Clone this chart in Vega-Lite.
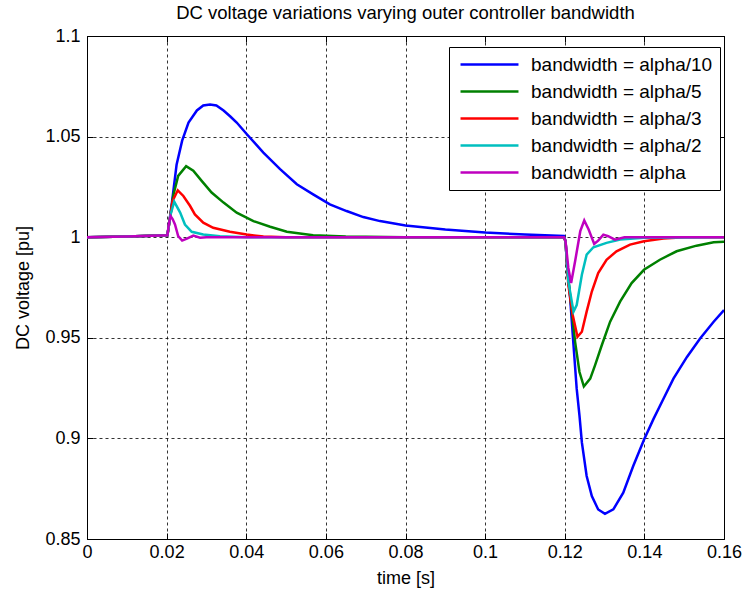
{
  "$schema": "https://vega.github.io/schema/vega-lite/v6.json",
  "width": 637,
  "height": 503,
  "autosize": {"type": "none"},
  "padding": {"left": 87, "top": 36, "right": 22, "bottom": 56},
  "background": "white",
  "title": {"text": "DC voltage variations varying outer controller bandwidth", "font": "Liberation Sans", "fontSize": 18.5, "fontWeight": "normal", "color": "black", "offset": 5},
  "data": {"values": [
    {"s": "bandwidth = alpha/10", "t": 0, "v": 1.0},
    {"s": "bandwidth = alpha/10", "t": 0.01, "v": 1.0004},
    {"s": "bandwidth = alpha/10", "t": 0.0202, "v": 1.001},
    {"s": "bandwidth = alpha/10", "t": 0.0212, "v": 1.015},
    {"s": "bandwidth = alpha/10", "t": 0.0225, "v": 1.036},
    {"s": "bandwidth = alpha/10", "t": 0.0239, "v": 1.048},
    {"s": "bandwidth = alpha/10", "t": 0.0255, "v": 1.057},
    {"s": "bandwidth = alpha/10", "t": 0.0276, "v": 1.063},
    {"s": "bandwidth = alpha/10", "t": 0.0292, "v": 1.0655},
    {"s": "bandwidth = alpha/10", "t": 0.0309, "v": 1.066},
    {"s": "bandwidth = alpha/10", "t": 0.0325, "v": 1.0655},
    {"s": "bandwidth = alpha/10", "t": 0.0343, "v": 1.063},
    {"s": "bandwidth = alpha/10", "t": 0.036, "v": 1.06},
    {"s": "bandwidth = alpha/10", "t": 0.0376, "v": 1.057},
    {"s": "bandwidth = alpha/10", "t": 0.0401, "v": 1.0513},
    {"s": "bandwidth = alpha/10", "t": 0.0443, "v": 1.042},
    {"s": "bandwidth = alpha/10", "t": 0.0485, "v": 1.0338},
    {"s": "bandwidth = alpha/10", "t": 0.0527, "v": 1.0263},
    {"s": "bandwidth = alpha/10", "t": 0.0568, "v": 1.0213},
    {"s": "bandwidth = alpha/10", "t": 0.061, "v": 1.0163},
    {"s": "bandwidth = alpha/10", "t": 0.0652, "v": 1.013},
    {"s": "bandwidth = alpha/10", "t": 0.0694, "v": 1.01},
    {"s": "bandwidth = alpha/10", "t": 0.0736, "v": 1.008},
    {"s": "bandwidth = alpha/10", "t": 0.08, "v": 1.0058},
    {"s": "bandwidth = alpha/10", "t": 0.09, "v": 1.0038},
    {"s": "bandwidth = alpha/10", "t": 0.1, "v": 1.0023},
    {"s": "bandwidth = alpha/10", "t": 0.11, "v": 1.0013},
    {"s": "bandwidth = alpha/10", "t": 0.1198, "v": 1.0006},
    {"s": "bandwidth = alpha/10", "t": 0.1202, "v": 0.998},
    {"s": "bandwidth = alpha/10", "t": 0.1206, "v": 0.985},
    {"s": "bandwidth = alpha/10", "t": 0.1213, "v": 0.9713},
    {"s": "bandwidth = alpha/10", "t": 0.1222, "v": 0.9463},
    {"s": "bandwidth = alpha/10", "t": 0.123, "v": 0.9247},
    {"s": "bandwidth = alpha/10", "t": 0.1237, "v": 0.9113},
    {"s": "bandwidth = alpha/10", "t": 0.1243, "v": 0.898},
    {"s": "bandwidth = alpha/10", "t": 0.1255, "v": 0.8813},
    {"s": "bandwidth = alpha/10", "t": 0.1268, "v": 0.8713},
    {"s": "bandwidth = alpha/10", "t": 0.1284, "v": 0.8647},
    {"s": "bandwidth = alpha/10", "t": 0.1301, "v": 0.8625},
    {"s": "bandwidth = alpha/10", "t": 0.1322, "v": 0.8647},
    {"s": "bandwidth = alpha/10", "t": 0.1347, "v": 0.873},
    {"s": "bandwidth = alpha/10", "t": 0.1372, "v": 0.8863},
    {"s": "bandwidth = alpha/10", "t": 0.1399, "v": 0.8993},
    {"s": "bandwidth = alpha/10", "t": 0.1423, "v": 0.9097},
    {"s": "bandwidth = alpha/10", "t": 0.1448, "v": 0.9197},
    {"s": "bandwidth = alpha/10", "t": 0.1473, "v": 0.9297},
    {"s": "bandwidth = alpha/10", "t": 0.1507, "v": 0.9405},
    {"s": "bandwidth = alpha/10", "t": 0.154, "v": 0.9497},
    {"s": "bandwidth = alpha/10", "t": 0.1574, "v": 0.958},
    {"s": "bandwidth = alpha/10", "t": 0.16, "v": 0.9638},

    {"s": "bandwidth = alpha/5", "t": 0, "v": 1.0},
    {"s": "bandwidth = alpha/5", "t": 0.01, "v": 1.0004},
    {"s": "bandwidth = alpha/5", "t": 0.0202, "v": 1.001},
    {"s": "bandwidth = alpha/5", "t": 0.0217, "v": 1.021},
    {"s": "bandwidth = alpha/5", "t": 0.0229, "v": 1.0305},
    {"s": "bandwidth = alpha/5", "t": 0.0249, "v": 1.0353},
    {"s": "bandwidth = alpha/5", "t": 0.0267, "v": 1.033},
    {"s": "bandwidth = alpha/5", "t": 0.0288, "v": 1.028},
    {"s": "bandwidth = alpha/5", "t": 0.0313, "v": 1.0222},
    {"s": "bandwidth = alpha/5", "t": 0.0343, "v": 1.0172},
    {"s": "bandwidth = alpha/5", "t": 0.0376, "v": 1.0122},
    {"s": "bandwidth = alpha/5", "t": 0.0418, "v": 1.008},
    {"s": "bandwidth = alpha/5", "t": 0.046, "v": 1.0052},
    {"s": "bandwidth = alpha/5", "t": 0.0502, "v": 1.0027},
    {"s": "bandwidth = alpha/5", "t": 0.0568, "v": 1.001},
    {"s": "bandwidth = alpha/5", "t": 0.065, "v": 1.0003},
    {"s": "bandwidth = alpha/5", "t": 0.08, "v": 1.0},
    {"s": "bandwidth = alpha/5", "t": 0.1198, "v": 1.0},
    {"s": "bandwidth = alpha/5", "t": 0.1202, "v": 0.998},
    {"s": "bandwidth = alpha/5", "t": 0.1206, "v": 0.985},
    {"s": "bandwidth = alpha/5", "t": 0.1213, "v": 0.972},
    {"s": "bandwidth = alpha/5", "t": 0.1226, "v": 0.948},
    {"s": "bandwidth = alpha/5", "t": 0.1237, "v": 0.933},
    {"s": "bandwidth = alpha/5", "t": 0.1248, "v": 0.9258},
    {"s": "bandwidth = alpha/5", "t": 0.1264, "v": 0.9297},
    {"s": "bandwidth = alpha/5", "t": 0.1276, "v": 0.9363},
    {"s": "bandwidth = alpha/5", "t": 0.1293, "v": 0.9463},
    {"s": "bandwidth = alpha/5", "t": 0.1314, "v": 0.958},
    {"s": "bandwidth = alpha/5", "t": 0.1339, "v": 0.968},
    {"s": "bandwidth = alpha/5", "t": 0.1368, "v": 0.9772},
    {"s": "bandwidth = alpha/5", "t": 0.1399, "v": 0.9838},
    {"s": "bandwidth = alpha/5", "t": 0.1439, "v": 0.9888},
    {"s": "bandwidth = alpha/5", "t": 0.1481, "v": 0.993},
    {"s": "bandwidth = alpha/5", "t": 0.1531, "v": 0.9958},
    {"s": "bandwidth = alpha/5", "t": 0.1574, "v": 0.9975},
    {"s": "bandwidth = alpha/5", "t": 0.16, "v": 0.9977},

    {"s": "bandwidth = alpha/3", "t": 0, "v": 1.0},
    {"s": "bandwidth = alpha/3", "t": 0.01, "v": 1.0004},
    {"s": "bandwidth = alpha/3", "t": 0.0202, "v": 1.001},
    {"s": "bandwidth = alpha/3", "t": 0.0215, "v": 1.018},
    {"s": "bandwidth = alpha/3", "t": 0.0228, "v": 1.0233},
    {"s": "bandwidth = alpha/3", "t": 0.0242, "v": 1.0205},
    {"s": "bandwidth = alpha/3", "t": 0.0259, "v": 1.0155},
    {"s": "bandwidth = alpha/3", "t": 0.0271, "v": 1.0113},
    {"s": "bandwidth = alpha/3", "t": 0.0292, "v": 1.0072},
    {"s": "bandwidth = alpha/3", "t": 0.0317, "v": 1.0047},
    {"s": "bandwidth = alpha/3", "t": 0.0359, "v": 1.0027},
    {"s": "bandwidth = alpha/3", "t": 0.0401, "v": 1.0013},
    {"s": "bandwidth = alpha/3", "t": 0.0443, "v": 1.0003},
    {"s": "bandwidth = alpha/3", "t": 0.05, "v": 1.0},
    {"s": "bandwidth = alpha/3", "t": 0.1198, "v": 1.0},
    {"s": "bandwidth = alpha/3", "t": 0.1202, "v": 0.998},
    {"s": "bandwidth = alpha/3", "t": 0.1209, "v": 0.9763},
    {"s": "bandwidth = alpha/3", "t": 0.122, "v": 0.9613},
    {"s": "bandwidth = alpha/3", "t": 0.1232, "v": 0.9505},
    {"s": "bandwidth = alpha/3", "t": 0.1243, "v": 0.953},
    {"s": "bandwidth = alpha/3", "t": 0.1255, "v": 0.963},
    {"s": "bandwidth = alpha/3", "t": 0.1268, "v": 0.973},
    {"s": "bandwidth = alpha/3", "t": 0.1284, "v": 0.9822},
    {"s": "bandwidth = alpha/3", "t": 0.1305, "v": 0.9888},
    {"s": "bandwidth = alpha/3", "t": 0.133, "v": 0.993},
    {"s": "bandwidth = alpha/3", "t": 0.1364, "v": 0.9963},
    {"s": "bandwidth = alpha/3", "t": 0.1399, "v": 0.998},
    {"s": "bandwidth = alpha/3", "t": 0.1448, "v": 0.9993},
    {"s": "bandwidth = alpha/3", "t": 0.15, "v": 1.0},
    {"s": "bandwidth = alpha/3", "t": 0.16, "v": 1.0},

    {"s": "bandwidth = alpha/2", "t": 0, "v": 1.0},
    {"s": "bandwidth = alpha/2", "t": 0.01, "v": 1.0004},
    {"s": "bandwidth = alpha/2", "t": 0.0202, "v": 1.001},
    {"s": "bandwidth = alpha/2", "t": 0.021, "v": 1.0113},
    {"s": "bandwidth = alpha/2", "t": 0.0219, "v": 1.0177},
    {"s": "bandwidth = alpha/2", "t": 0.0234, "v": 1.0122},
    {"s": "bandwidth = alpha/2", "t": 0.0246, "v": 1.0063},
    {"s": "bandwidth = alpha/2", "t": 0.0263, "v": 1.0027},
    {"s": "bandwidth = alpha/2", "t": 0.0292, "v": 1.0013},
    {"s": "bandwidth = alpha/2", "t": 0.0334, "v": 1.0005},
    {"s": "bandwidth = alpha/2", "t": 0.04, "v": 1.0},
    {"s": "bandwidth = alpha/2", "t": 0.1198, "v": 1.0},
    {"s": "bandwidth = alpha/2", "t": 0.1202, "v": 0.998},
    {"s": "bandwidth = alpha/2", "t": 0.1209, "v": 0.978},
    {"s": "bandwidth = alpha/2", "t": 0.1222, "v": 0.963},
    {"s": "bandwidth = alpha/2", "t": 0.123, "v": 0.9663},
    {"s": "bandwidth = alpha/2", "t": 0.1243, "v": 0.9813},
    {"s": "bandwidth = alpha/2", "t": 0.1255, "v": 0.9913},
    {"s": "bandwidth = alpha/2", "t": 0.1272, "v": 0.995},
    {"s": "bandwidth = alpha/2", "t": 0.1305, "v": 0.9972},
    {"s": "bandwidth = alpha/2", "t": 0.1339, "v": 0.9988},
    {"s": "bandwidth = alpha/2", "t": 0.14, "v": 0.9997},
    {"s": "bandwidth = alpha/2", "t": 0.16, "v": 1.0},

    {"s": "bandwidth = alpha", "t": 0, "v": 1.0},
    {"s": "bandwidth = alpha", "t": 0.01, "v": 1.0004},
    {"s": "bandwidth = alpha", "t": 0.0202, "v": 1.001},
    {"s": "bandwidth = alpha", "t": 0.0206, "v": 1.007},
    {"s": "bandwidth = alpha", "t": 0.021, "v": 1.0105},
    {"s": "bandwidth = alpha", "t": 0.0215, "v": 1.009},
    {"s": "bandwidth = alpha", "t": 0.0221, "v": 1.0063},
    {"s": "bandwidth = alpha", "t": 0.0229, "v": 1.0005},
    {"s": "bandwidth = alpha", "t": 0.0239, "v": 0.9983},
    {"s": "bandwidth = alpha", "t": 0.0251, "v": 0.9993},
    {"s": "bandwidth = alpha", "t": 0.0267, "v": 1.0008},
    {"s": "bandwidth = alpha", "t": 0.0284, "v": 0.9997},
    {"s": "bandwidth = alpha", "t": 0.03, "v": 1.0},
    {"s": "bandwidth = alpha", "t": 0.1198, "v": 1.0},
    {"s": "bandwidth = alpha", "t": 0.1202, "v": 0.998},
    {"s": "bandwidth = alpha", "t": 0.1209, "v": 0.9847},
    {"s": "bandwidth = alpha", "t": 0.1216, "v": 0.9772},
    {"s": "bandwidth = alpha", "t": 0.1226, "v": 0.988},
    {"s": "bandwidth = alpha", "t": 0.1239, "v": 1.003},
    {"s": "bandwidth = alpha", "t": 0.1249, "v": 1.0083},
    {"s": "bandwidth = alpha", "t": 0.126, "v": 1.0038},
    {"s": "bandwidth = alpha", "t": 0.1274, "v": 0.9967},
    {"s": "bandwidth = alpha", "t": 0.1284, "v": 0.9983},
    {"s": "bandwidth = alpha", "t": 0.1297, "v": 1.0013},
    {"s": "bandwidth = alpha", "t": 0.1309, "v": 1.0005},
    {"s": "bandwidth = alpha", "t": 0.1326, "v": 0.9988},
    {"s": "bandwidth = alpha", "t": 0.135, "v": 1.0},
    {"s": "bandwidth = alpha", "t": 0.16, "v": 1.0}
  ]},
  "layer": [
    {
      "mark": {"type": "line", "strokeWidth": 2.5, "clip": true},
      "encoding": {
        "x": {"field": "t", "type": "quantitative", "scale": {"domain": [0, 0.16], "nice": false},
          "axis": {"values": [0, 0.02, 0.04, 0.06, 0.08, 0.1, 0.12, 0.14, 0.16], "format": "~g", "labelFlush": false, "title": "time [s]", "labelPadding": 10, "titlePadding": 8}},
        "y": {"field": "v", "type": "quantitative", "scale": {"domain": [0.85, 1.1], "nice": false, "zero": false},
          "axis": {"values": [0.85, 0.9, 0.95, 1, 1.05, 1.1], "format": "~g", "labelFlush": false, "title": "DC voltage [pu]", "labelPadding": 13, "titlePadding": 12}},
        "color": {"field": "s", "type": "nominal",
          "scale": {"domain": ["bandwidth = alpha/10", "bandwidth = alpha/5", "bandwidth = alpha/3", "bandwidth = alpha/2", "bandwidth = alpha"],
                    "range": ["#0000ff", "#008000", "#ff0000", "#00bfbf", "#bf00bf"]},
          "legend": {"orient": "none", "legendX": 362, "legendY": 11, "title": null, "fillColor": "white", "strokeColor": "black", "padding": 7,
            "labelFont": "Liberation Sans", "labelFontSize": 19, "labelColor": "black", "symbolType": "M-3.22,0H3.22", "symbolSize": 324, "symbolStrokeWidth": 2.5,
            "symbolOffset": 23, "labelOffset": 31, "rowPadding": 6, "labelLimit": 400}}
      }
    },
    {
      "mark": {"type": "line", "opacity": 0},
      "encoding": {
        "x": {"field": "t", "type": "quantitative", "axis": {"orient": "top", "values": [0, 0.02, 0.04, 0.06, 0.08, 0.1, 0.12, 0.14, 0.16], "labels": false, "grid": false, "title": null}},
        "y": {"field": "v", "type": "quantitative", "axis": {"orient": "right", "values": [0.85, 0.9, 0.95, 1, 1.05, 1.1], "labels": false, "grid": false, "title": null}},
        "detail": {"field": "s"}
      }
    }
  ],
  "resolve": {"axis": {"x": "independent", "y": "independent"}},
  "config": {
    "font": "Liberation Sans",
    "view": {"stroke": "black", "strokeWidth": 1},
    "axis": {"labelFont": "Liberation Sans", "labelFontSize": 18, "labelColor": "black", "titleFont": "Liberation Sans", "titleFontSize": 18, "titleFontWeight": "normal", "titleColor": "black",
      "domain": false, "grid": true, "gridColor": "black", "gridDash": [3, 3], "gridOpacity": 0.8, "tickColor": "black", "tickSize": -6, "tickWidth": 1}
  }
}
